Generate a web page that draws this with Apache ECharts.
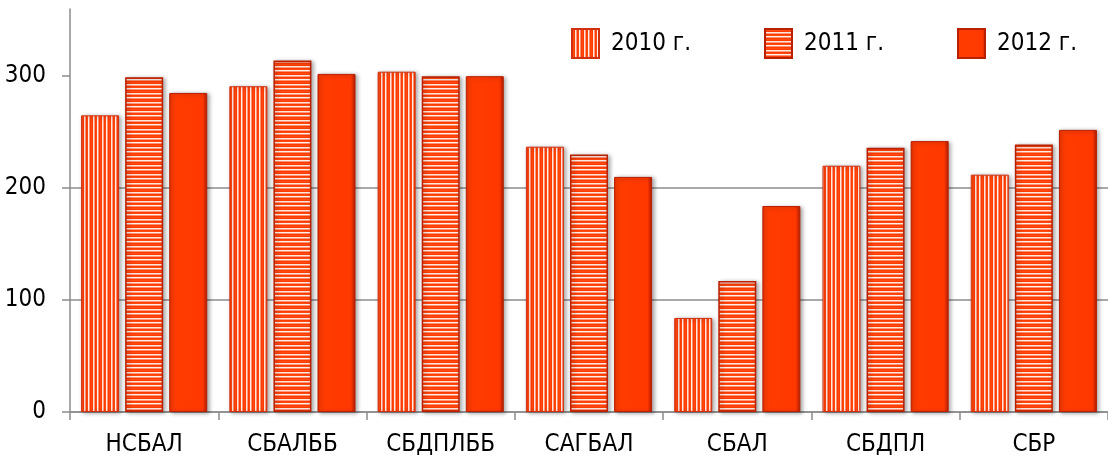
<!DOCTYPE html>
<html><head><meta charset="utf-8">
<script src="https://cdn.jsdelivr.net/npm/echarts@6/dist/echarts.min.js"></script>
<style>html,body{margin:0;padding:0;background:#fff}#c{width:1108px;height:461px}</style>
</head><body><div id="c"></div>
<script>
const categories = ['НСБАЛ','СБАЛББ','СБДПЛББ','САГБАЛ','СБАЛ','СБДПЛ','СБР'];
const seriesNames = ['2010 г.','2011 г.','2012 г.'];
const values2010 = [265, 291, 304, 237, 84, 220, 212];
const values2011 = [299, 314, 300, 230, 117, 236, 239];
const values2012 = [285, 302, 300, 210, 184, 242, 252];
const yTicks = [0, 100, 200, 300];

const FONT = "'DejaVu Sans Condensed','Liberation Sans',sans-serif";
const FS = 24;

function makePattern(vertical){
  const c = document.createElement('canvas');
  const n = 9;
  c.width = vertical ? n : 1; c.height = vertical ? 1 : n;
  const ctx = c.getContext('2d');
  const cols = ['#FF3C00','#FF4A10','#FF3C00','#FFE6DC','#FF9A80','#FF3C00','#FF4A10','#FFF0EA','#FF9070'];
  for(let i=0;i<n;i++){
    ctx.fillStyle = cols[i];
    if(vertical) ctx.fillRect(i,0,1,1); else ctx.fillRect(0,i,1,1);
  }
  return {image: c, repeat: 'repeat'};
}

const solid = {type:'linear',x:0,y:0,x2:1,y2:0,colorStops:[
  {offset:0,color:'#E02E00'},{offset:0.08,color:'#FF3C00'},{offset:0.88,color:'#FF3800'},{offset:1,color:'#B01C00'}]};

const shadow = {shadowColor:'rgba(0,0,0,0.35)',shadowBlur:4,shadowOffsetX:2,shadowOffsetY:1};

const legendLefts = [566, 759, 952];
const legends = seriesNames.map((n,i)=>({
  left:legendLefts[i], top:23, itemWidth:27, itemHeight:29, icon:'rect',
  textStyle:{fontFamily:FONT,fontSize:FS,color:'#000',padding:[0,0,0,7]},
  data:[n]
}));

const chart = echarts.init(document.getElementById('c'), null, {renderer:'canvas'});
chart.setOption({
  animation:false,
  backgroundColor:'#fff',
  grid:{left:70,right:0,top:9,bottom:49},
  legend:legends,
  xAxis:{
    type:'category', data:categories,
    axisLine:{lineStyle:{color:'#8c8c8c',width:1.5}},
    axisTick:{show:true,length:8,lineStyle:{color:'#8c8c8c',width:1.5}},
    axisLabel:{fontFamily:FONT,fontSize:FS,color:'#000',margin:21,interval:0}
  },
  yAxis:{
    type:'value', min:0, max:360, interval:100,
    axisLine:{show:true,lineStyle:{color:'#8c8c8c',width:1.5}},
    axisTick:{show:true,length:8,customValues:yTicks,lineStyle:{color:'#8c8c8c',width:1.5}},
    axisLabel:{fontFamily:FONT,fontSize:FS,color:'#000',margin:24,customValues:yTicks},
    splitLine:{show:true,showMaxLine:false,lineStyle:{color:'#8c8c8c',width:1.5}}
  },
  series:[
    {name:seriesNames[0],type:'bar',data:values2010,barWidth:38,barGap:'16%',
     itemStyle:Object.assign({color:makePattern(true),borderColor:'#D03010',borderWidth:1},shadow)},
    {name:seriesNames[1],type:'bar',data:values2011,barWidth:38,barGap:'16%',
     itemStyle:Object.assign({color:makePattern(false),borderColor:'#B82000',borderWidth:1.5},shadow)},
    {name:seriesNames[2],type:'bar',data:values2012,barWidth:38,barGap:'16%',
     itemStyle:Object.assign({color:solid,borderColor:'#B82000',borderWidth:1},shadow)}
  ]
});
</script></body></html>
